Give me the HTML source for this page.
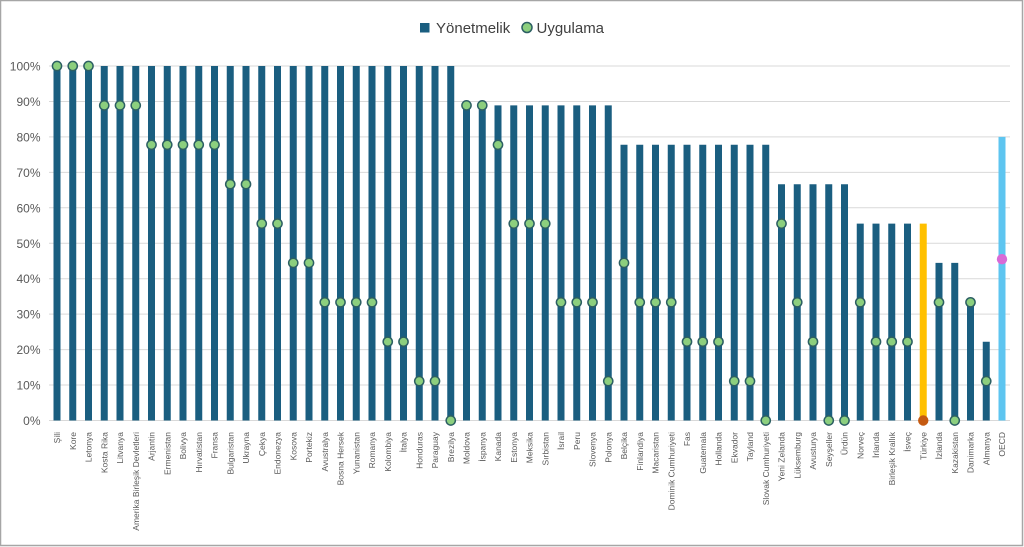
<!DOCTYPE html>
<html><head><meta charset="utf-8"><style>
html,body{margin:0;padding:0;background:#fff;}
svg{display:block;font-family:"Liberation Sans",Arial,sans-serif;}
</style></head><body>
<svg width="1024" height="547" viewBox="0 0 1024 547" xmlns="http://www.w3.org/2000/svg">
<rect x="0.5" y="0.5" width="1022" height="545" fill="#fff" stroke="#a6a6a6" stroke-width="1.5"/>
<!-- legend -->
<rect x="420" y="23" width="9.5" height="9.5" fill="#1a5e80"/>
<text x="436" y="33" font-size="15" fill="#404040">Yönetmelik</text>
<circle cx="527" cy="27.5" r="5" fill="#8ccf7e" stroke="#2c5f63" stroke-width="1.5"/>
<text x="536.5" y="33" font-size="15" fill="#404040">Uygulama</text>
<!-- gridlines -->
<g stroke="#d9d9d9" stroke-width="1">
<line x1="49" x2="1010" y1="66" y2="66"/>
<line x1="49" x2="1010" y1="101.45" y2="101.45"/>
<line x1="49" x2="1010" y1="136.9" y2="136.9"/>
<line x1="49" x2="1010" y1="172.35" y2="172.35"/>
<line x1="49" x2="1010" y1="207.8" y2="207.8"/>
<line x1="49" x2="1010" y1="243.25" y2="243.25"/>
<line x1="49" x2="1010" y1="278.7" y2="278.7"/>
<line x1="49" x2="1010" y1="314.15" y2="314.15"/>
<line x1="49" x2="1010" y1="349.6" y2="349.6"/>
<line x1="49" x2="1010" y1="385.05" y2="385.05"/>
<line x1="49" x2="1010" y1="420.5" y2="420.5"/>
</g>
<!-- y labels -->
<g font-size="12" fill="#595959" text-anchor="end">
<text x="40.5" y="70.5">100%</text>
<text x="40.5" y="106">90%</text>
<text x="40.5" y="141.4">80%</text>
<text x="40.5" y="176.9">70%</text>
<text x="40.5" y="212.3">60%</text>
<text x="40.5" y="247.8">50%</text>
<text x="40.5" y="283.2">40%</text>
<text x="40.5" y="318.7">30%</text>
<text x="40.5" y="354.1">20%</text>
<text x="40.5" y="389.6">10%</text>
<text x="40.5" y="425">0%</text>
</g>
<!-- bars -->
<path fill="none" stroke="#1a5e80" stroke-width="7" d="
M57 420.5V66M72.75 420.5V66M88.5 420.5V66M104.25 420.5V66M120 420.5V66M135.75 420.5V66M151.5 420.5V66M167.25 420.5V66M183 420.5V66M198.75 420.5V66M214.5 420.5V66M230.25 420.5V66M246 420.5V66M261.75 420.5V66M277.5 420.5V66M293.25 420.5V66M309 420.5V66M324.75 420.5V66M340.5 420.5V66M356.25 420.5V66M372 420.5V66M387.75 420.5V66M403.5 420.5V66M419.25 420.5V66M435 420.5V66M450.75 420.5V66
M466.5 420.5V105.4M482.25 420.5V105.4M498 420.5V105.4M513.75 420.5V105.4M529.5 420.5V105.4M545.25 420.5V105.4M561 420.5V105.4M576.75 420.5V105.4M592.5 420.5V105.4M608.25 420.5V105.4
M624 420.5V144.8M639.75 420.5V144.8M655.5 420.5V144.8M671.25 420.5V144.8M687 420.5V144.8M702.75 420.5V144.8M718.5 420.5V144.8M734.25 420.5V144.8M750 420.5V144.8M765.75 420.5V144.8
M781.5 420.5V184.2M797.25 420.5V184.2M813 420.5V184.2M828.75 420.5V184.2M844.5 420.5V184.2
M860.25 420.5V223.6M876 420.5V223.6M891.75 420.5V223.6M907.5 420.5V223.6
M939 420.5V262.9M954.75 420.5V262.9M970.5 420.5V302.3M986.25 420.5V341.7"/>
<path fill="none" stroke="#ffc000" stroke-width="7" d="M923.25 420.5V223.6"/>
<path fill="none" stroke="#5ec5f0" stroke-width="7" d="M1002 420.5V136.9"/>
<!-- dots -->
<g fill="#8ccf7e" stroke="#2c5f63" stroke-width="1.5">
<circle cx="57" cy="66" r="4.6"/>
<circle cx="72.75" cy="66" r="4.6"/>
<circle cx="88.5" cy="66" r="4.6"/>
<circle cx="104.25" cy="105.4" r="4.6"/>
<circle cx="120" cy="105.4" r="4.6"/>
<circle cx="135.75" cy="105.4" r="4.6"/>
<circle cx="151.5" cy="144.8" r="4.6"/>
<circle cx="167.25" cy="144.8" r="4.6"/>
<circle cx="183" cy="144.8" r="4.6"/>
<circle cx="198.75" cy="144.8" r="4.6"/>
<circle cx="214.5" cy="144.8" r="4.6"/>
<circle cx="230.25" cy="184.2" r="4.6"/>
<circle cx="246" cy="184.2" r="4.6"/>
<circle cx="261.75" cy="223.6" r="4.6"/>
<circle cx="277.5" cy="223.6" r="4.6"/>
<circle cx="293.25" cy="262.9" r="4.6"/>
<circle cx="309" cy="262.9" r="4.6"/>
<circle cx="324.75" cy="302.3" r="4.6"/>
<circle cx="340.5" cy="302.3" r="4.6"/>
<circle cx="356.25" cy="302.3" r="4.6"/>
<circle cx="372" cy="302.3" r="4.6"/>
<circle cx="387.75" cy="341.7" r="4.6"/>
<circle cx="403.5" cy="341.7" r="4.6"/>
<circle cx="419.25" cy="381.1" r="4.6"/>
<circle cx="435" cy="381.1" r="4.6"/>
<circle cx="450.75" cy="420.5" r="4.6"/>
<circle cx="466.5" cy="105.4" r="4.6"/>
<circle cx="482.25" cy="105.4" r="4.6"/>
<circle cx="498" cy="144.8" r="4.6"/>
<circle cx="513.75" cy="223.6" r="4.6"/>
<circle cx="529.5" cy="223.6" r="4.6"/>
<circle cx="545.25" cy="223.6" r="4.6"/>
<circle cx="561" cy="302.3" r="4.6"/>
<circle cx="576.75" cy="302.3" r="4.6"/>
<circle cx="592.5" cy="302.3" r="4.6"/>
<circle cx="608.25" cy="381.1" r="4.6"/>
<circle cx="624" cy="262.9" r="4.6"/>
<circle cx="639.75" cy="302.3" r="4.6"/>
<circle cx="655.5" cy="302.3" r="4.6"/>
<circle cx="671.25" cy="302.3" r="4.6"/>
<circle cx="687" cy="341.7" r="4.6"/>
<circle cx="702.75" cy="341.7" r="4.6"/>
<circle cx="718.5" cy="341.7" r="4.6"/>
<circle cx="734.25" cy="381.1" r="4.6"/>
<circle cx="750" cy="381.1" r="4.6"/>
<circle cx="765.75" cy="420.5" r="4.6"/>
<circle cx="781.5" cy="223.6" r="4.6"/>
<circle cx="797.25" cy="302.3" r="4.6"/>
<circle cx="813" cy="341.7" r="4.6"/>
<circle cx="828.75" cy="420.5" r="4.6"/>
<circle cx="844.5" cy="420.5" r="4.6"/>
<circle cx="860.25" cy="302.3" r="4.6"/>
<circle cx="876" cy="341.7" r="4.6"/>
<circle cx="891.75" cy="341.7" r="4.6"/>
<circle cx="907.5" cy="341.7" r="4.6"/>
<circle cx="939" cy="302.3" r="4.6"/>
<circle cx="954.75" cy="420.5" r="4.6"/>
<circle cx="970.5" cy="302.3" r="4.6"/>
<circle cx="986.25" cy="381.1" r="4.6"/>
</g>
<circle cx="923.25" cy="420.5" r="5.2" fill="#c55a11"/>
<circle cx="1002" cy="259.2" r="5.2" fill="#d96ad6"/>
<!-- x labels -->
<g font-size="8.5" fill="#595959" text-anchor="end">
<text transform="translate(60,432) rotate(-90)">Şili</text>
<text transform="translate(75.75,432) rotate(-90)">Kore</text>
<text transform="translate(91.5,432) rotate(-90)">Letonya</text>
<text transform="translate(107.25,432) rotate(-90)">Kosta Rika</text>
<text transform="translate(123,432) rotate(-90)">Litvanya</text>
<text transform="translate(138.75,432) rotate(-90)">Amerika Birleşik Devletleri</text>
<text transform="translate(154.5,432) rotate(-90)">Arjantin</text>
<text transform="translate(170.25,432) rotate(-90)">Ermenistan</text>
<text transform="translate(186,432) rotate(-90)">Bolivya</text>
<text transform="translate(201.75,432) rotate(-90)">Hırvatistan</text>
<text transform="translate(217.5,432) rotate(-90)">Fransa</text>
<text transform="translate(233.25,432) rotate(-90)">Bulgaristan</text>
<text transform="translate(249,432) rotate(-90)">Ukrayna</text>
<text transform="translate(264.75,432) rotate(-90)">Çekya</text>
<text transform="translate(280.5,432) rotate(-90)">Endonezya</text>
<text transform="translate(296.25,432) rotate(-90)">Kosova</text>
<text transform="translate(312,432) rotate(-90)">Portekiz</text>
<text transform="translate(327.75,432) rotate(-90)">Avustralya</text>
<text transform="translate(343.5,432) rotate(-90)">Bosna Hersek</text>
<text transform="translate(359.25,432) rotate(-90)">Yunanistan</text>
<text transform="translate(375,432) rotate(-90)">Romanya</text>
<text transform="translate(390.75,432) rotate(-90)">Kolombiya</text>
<text transform="translate(406.5,432) rotate(-90)">İtalya</text>
<text transform="translate(422.25,432) rotate(-90)">Honduras</text>
<text transform="translate(438,432) rotate(-90)">Paraguay</text>
<text transform="translate(453.75,432) rotate(-90)">Brezilya</text>
<text transform="translate(469.5,432) rotate(-90)">Moldova</text>
<text transform="translate(485.25,432) rotate(-90)">İspanya</text>
<text transform="translate(501,432) rotate(-90)">Kanada</text>
<text transform="translate(516.75,432) rotate(-90)">Estonya</text>
<text transform="translate(532.5,432) rotate(-90)">Meksika</text>
<text transform="translate(548.25,432) rotate(-90)">Sırbistan</text>
<text transform="translate(564,432) rotate(-90)">İsrail</text>
<text transform="translate(579.75,432) rotate(-90)">Peru</text>
<text transform="translate(595.5,432) rotate(-90)">Slovenya</text>
<text transform="translate(611.25,432) rotate(-90)">Polonya</text>
<text transform="translate(627,432) rotate(-90)">Belçika</text>
<text transform="translate(642.75,432) rotate(-90)">Finlandiya</text>
<text transform="translate(658.5,432) rotate(-90)">Macaristan</text>
<text transform="translate(674.25,432) rotate(-90)">Dominik Cumhuriyeti</text>
<text transform="translate(690,432) rotate(-90)">Fas</text>
<text transform="translate(705.75,432) rotate(-90)">Guatemala</text>
<text transform="translate(721.5,432) rotate(-90)">Hollanda</text>
<text transform="translate(737.25,432) rotate(-90)">Ekvador</text>
<text transform="translate(753,432) rotate(-90)">Tayland</text>
<text transform="translate(768.75,432) rotate(-90)">Slovak Cumhuriyeti</text>
<text transform="translate(784.5,432) rotate(-90)">Yeni Zelanda</text>
<text transform="translate(800.25,432) rotate(-90)">Lüksemburg</text>
<text transform="translate(816,432) rotate(-90)">Avusturya</text>
<text transform="translate(831.75,432) rotate(-90)">Seyşeller</text>
<text transform="translate(847.5,432) rotate(-90)">Ürdün</text>
<text transform="translate(863.25,432) rotate(-90)">Norveç</text>
<text transform="translate(879,432) rotate(-90)">İrlanda</text>
<text transform="translate(894.75,432) rotate(-90)">Birleşik Krallık</text>
<text transform="translate(910.5,432) rotate(-90)">İsveç</text>
<text transform="translate(926.25,432) rotate(-90)">Türkiye</text>
<text transform="translate(942,432) rotate(-90)">İzlanda</text>
<text transform="translate(957.75,432) rotate(-90)">Kazakistan</text>
<text transform="translate(973.5,432) rotate(-90)">Danimarka</text>
<text transform="translate(989.25,432) rotate(-90)">Almanya</text>
<text transform="translate(1005,432) rotate(-90)">OECD</text>
</g>
</svg>
</body></html>
